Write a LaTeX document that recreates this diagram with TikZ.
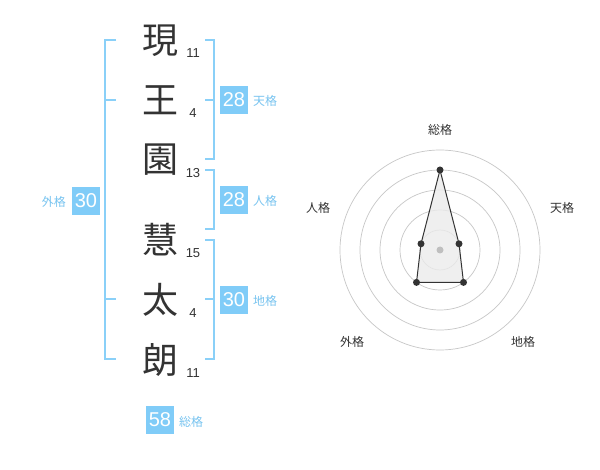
\documentclass[tikz,border=0pt]{standalone}
\usepackage{fontspec}
\setmainfont{Liberation Sans}
\newfontfamily\cjk{Noto Sans CJK JP}
\definecolor{boxblue}{RGB}{128,204,248}
\definecolor{lineblue}{RGB}{138,208,248}
\definecolor{lblblue}{RGB}{120,196,240}
\definecolor{ink}{RGB}{51,51,51}
\begin{document}
\begin{tikzpicture}[x=1pt,y=-1pt,
  kanji/.style={font=\cjk\fontsize{36}{36}\selectfont, text=ink, inner sep=0pt},
  strokes/.style={font=\fontsize{13}{13}\selectfont, text=ink, inner sep=0pt},
  numbox/.style={fill=boxblue, text=white, minimum size=28pt, inner sep=0pt, font=\fontsize{20}{20}\selectfont},
  lbl/.style={font=\cjk\fontsize{12}{12}\selectfont, text=lblblue, inner sep=0pt},
  brk/.style={draw=lineblue, line width=2pt},
  rlbl/.style={font=\cjk\fontsize{12}{12}\selectfont, text=ink, inner sep=0pt},
  ring/.style={draw=black!22, line width=0.7pt},
  dot/.style={circle, fill=ink, inner sep=0pt, minimum size=7pt}
]
\useasboundingbox[fill=white] (0,0) rectangle (600,470);

% kanji
\node[kanji] (k1) at (160,41) {現};
\node[kanji] (k2) at (160,100) {王};
\node[kanji] (k3) at (160,160) {園};
\node[kanji] (k4) at (160,240) {慧};
\node[kanji] (k5) at (160,300) {太};
\node[kanji] (k6) at (160,360) {朗};
% stroke counts
\node[strokes] (s1) at (193,53) {11};
\node[strokes] (s2) at (193,113) {4};
\node[strokes] (s3) at (193,173) {13};
\node[strokes] (s4) at (193,253) {15};
\node[strokes] (s5) at (193,313) {4};
\node[strokes] (s6) at (193,373) {11};

% left bracket (gaikaku)
\draw[brk] (116,40) -- (105,40) -- (105,359) -- (116,359);
\draw[brk] (105,100) -- (116,100);
\draw[brk] (105,299) -- (116,299);
% right brackets
\draw[brk] (205,40) -- (214,40) -- (214,159) -- (205,159);
\draw[brk] (205,100) -- (214,100);
\draw[brk] (205,170) -- (214,170) -- (214,229) -- (205,229);
\draw[brk] (205,240) -- (214,240) -- (214,359) -- (205,359);
\draw[brk] (205,299) -- (214,299);

% boxes
\node[numbox] (ten) at (234,100) {28};
\node[lbl, anchor=west] (tenl) at (253,101) {天格};
\node[numbox] (jin) at (234,200) {28};
\node[lbl, anchor=west] (jinl) at (253,201) {人格};
\node[numbox] (chi) at (234,300) {30};
\node[lbl, anchor=west] (chil) at (253,301) {地格};
\node[numbox] (gai) at (86,201) {30};
\node[lbl, anchor=east] (gail) at (66,202) {外格};
\node[numbox] (sou) at (160,420) {58};
\node[lbl, anchor=west] (soul) at (179,422) {総格};

% radar chart
\coordinate (c) at (440,250);
\foreach \r in {20,40,60,80,100} \draw[ring] (c) circle[radius=\r];
\coordinate (p1) at (440,170);
\coordinate (p2) at (459,243.8);
\coordinate (p3) at (463.5,282.4);
\coordinate (p4) at (416.5,282.4);
\coordinate (p5) at (421,243.8);
\draw[fill=black!8, fill opacity=0.8, draw=ink, line width=1pt] (p1) -- (p2) -- (p3) -- (p4) -- (p5) -- cycle;
\foreach \p in {p1,p2,p3,p4,p5} \node[dot] at (\p) {};
\fill[black!25] (c) circle[radius=3.5];

\node[rlbl] (r1) at (440,130) {総格};
\node[rlbl] (r2) at (562,208) {天格};
\node[rlbl] (r3) at (523,342) {地格};
\node[rlbl] (r4) at (352,342) {外格};
\node[rlbl] (r5) at (318,208) {人格};
\end{tikzpicture}
\end{document}
